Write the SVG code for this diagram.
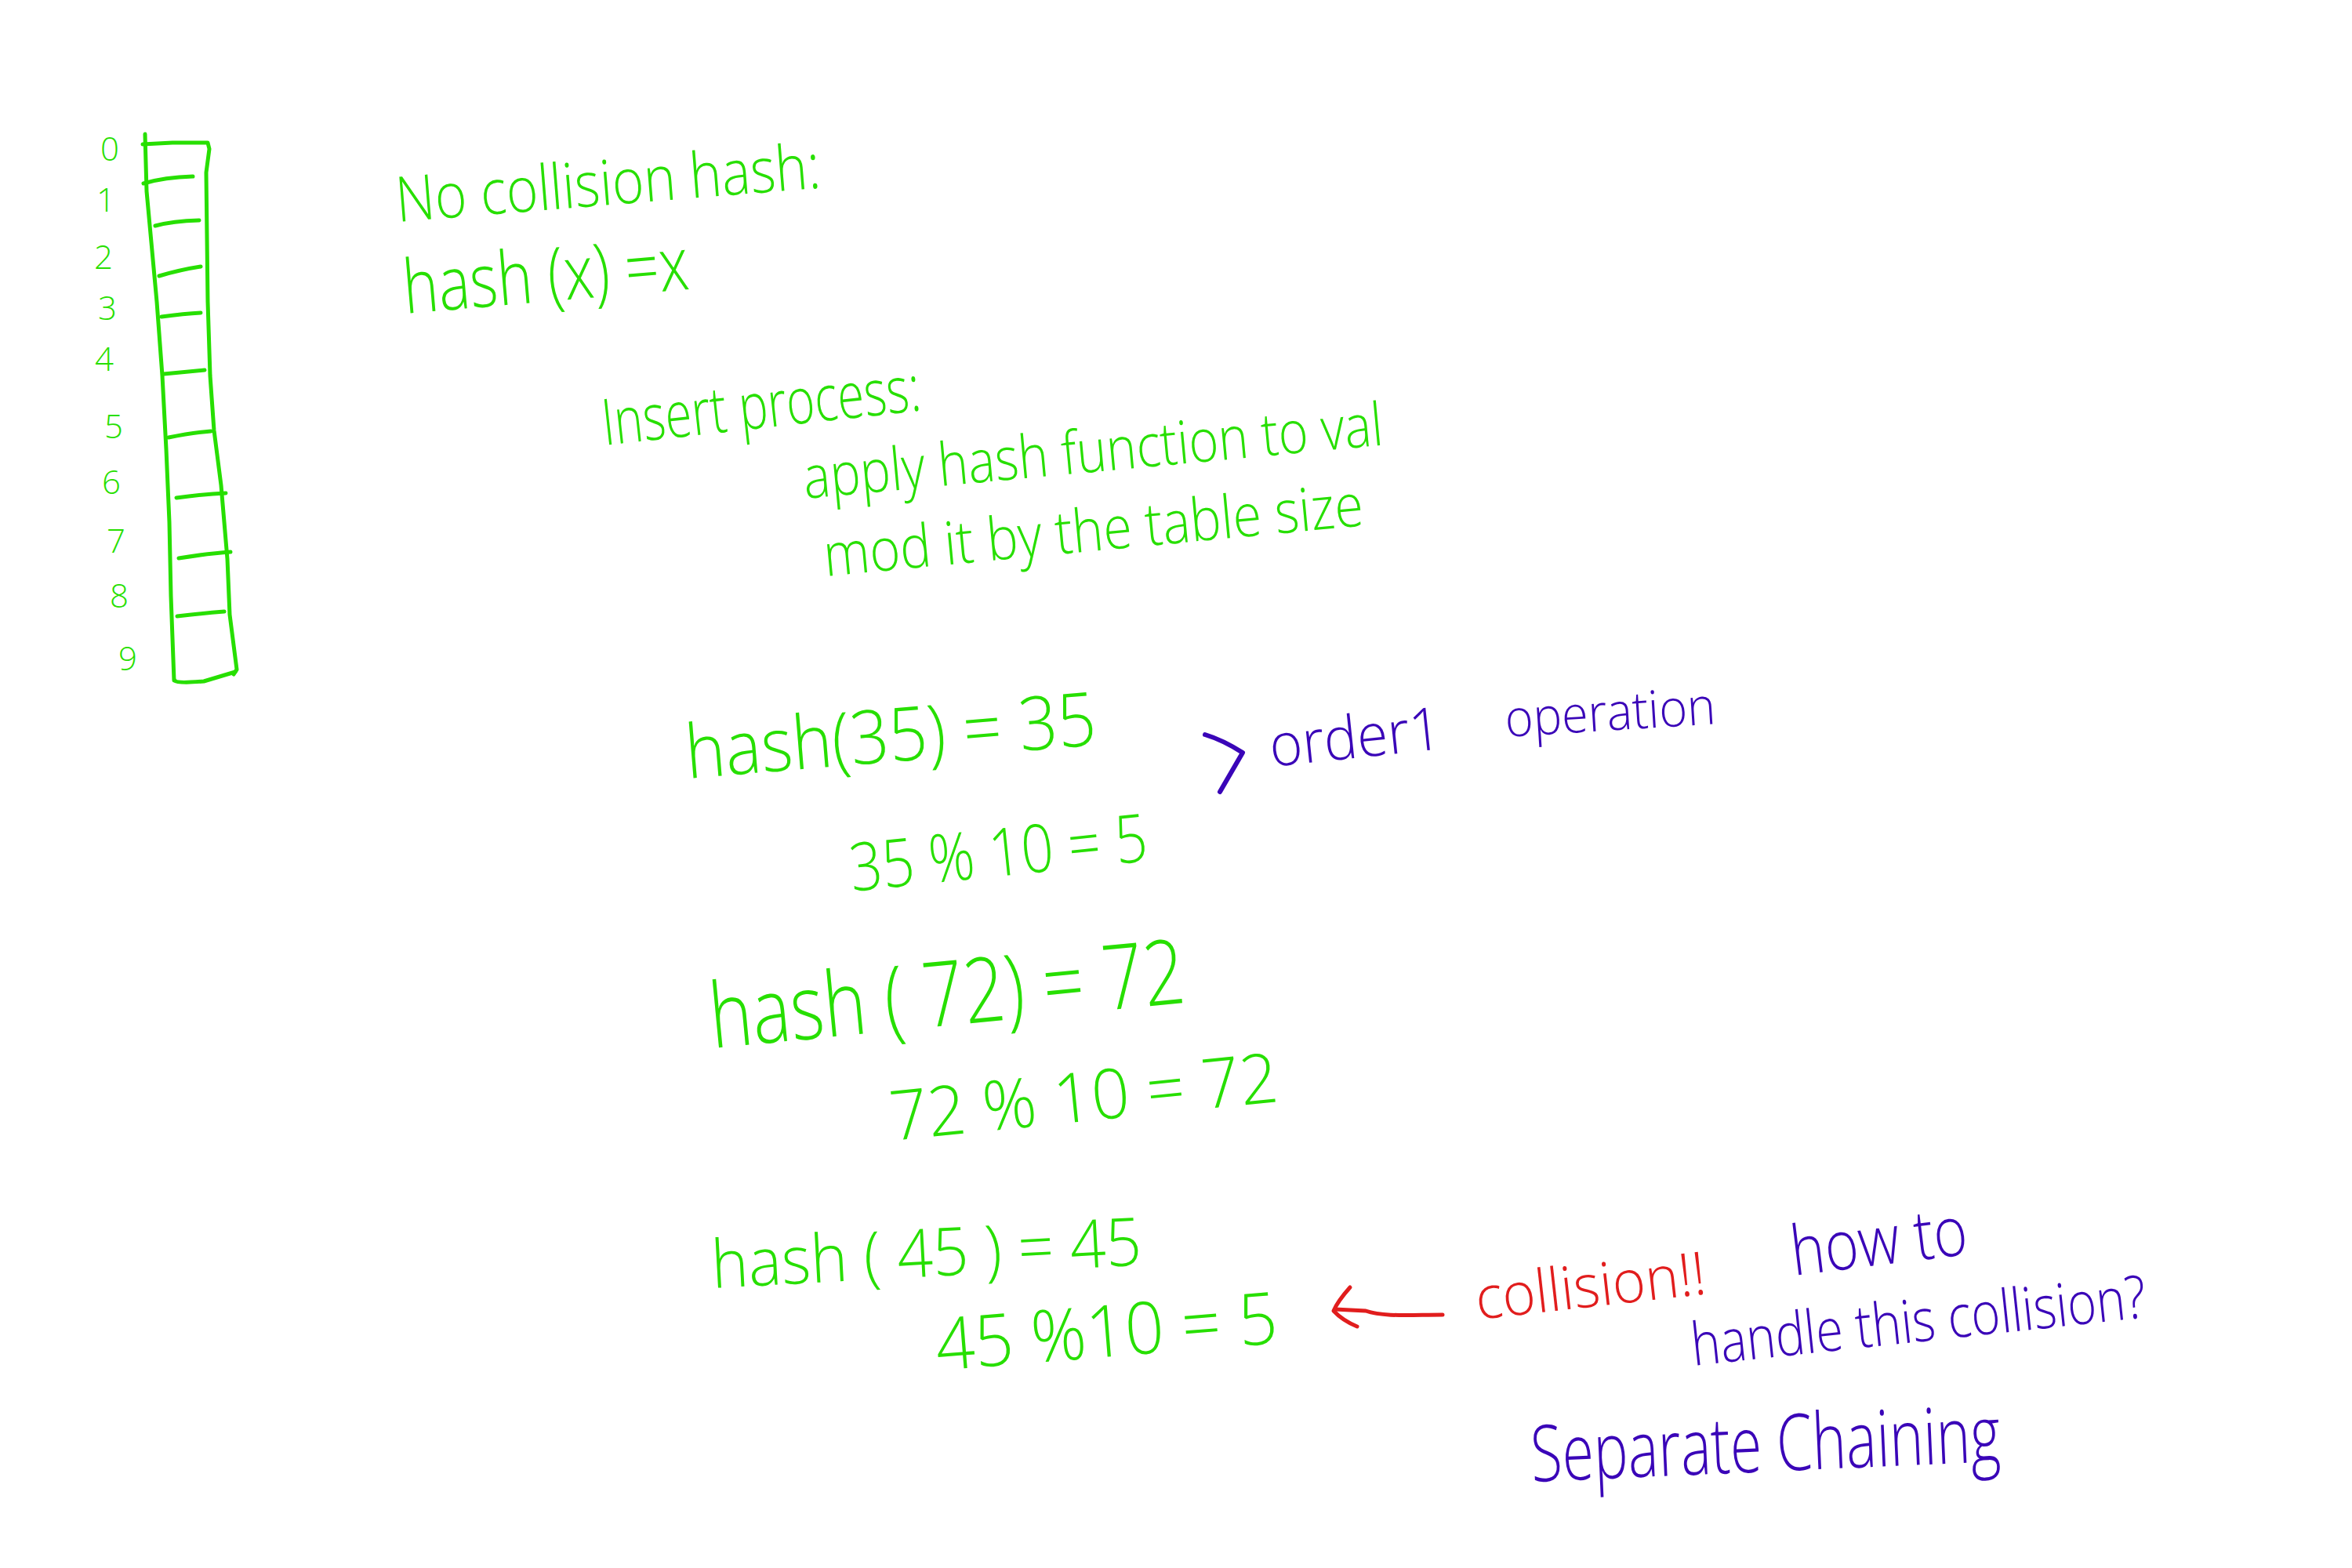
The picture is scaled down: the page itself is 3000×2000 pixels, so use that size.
<svg xmlns="http://www.w3.org/2000/svg" width="3000" height="2000" viewBox="0 0 3000 2000">
<style>
text{font-family:"Open Sans","Liberation Sans",sans-serif;font-weight:300}
.g{fill:#27df00}
.p{fill:#3a05b8}
.r{fill:#e11d1d}
.tl{fill:none;stroke:#27df00;stroke-width:5;stroke-linecap:round;stroke-linejoin:round}
.idx{font-size:42px;text-anchor:middle}
</style>
<rect width="3000" height="2000" fill="#ffffff"/>
<g id="table">
<polyline class="tl" points="185,171 187,244 200,385 207,479 212,573 216,666 218,760 222,868"/>
<polyline class="tl" points="182,184 220,182 265,182 267,190 263,220 265,385 268,479 273,549 282,619 290,713 293,784 302,854 298,860"/>
<path class="tl" d="M223,868 Q226,872 260,869 L300,857"/>
<g>
<path class="tl" d="M183,234 Q210,226 246,225"/>
<path class="tl" d="M198,288 Q220,282 254,281"/>
<path class="tl" d="M203,352 Q230,344 256,340"/>
<path class="tl" d="M206,404 Q235,400 256,399"/>
<path class="tl" d="M209,477 Q240,474 261,472"/>
<path class="tl" d="M215,558 Q245,552 269,550"/>
<path class="tl" d="M225,635 Q260,630 288,629"/>
<path class="tl" d="M228,712 Q265,706 294,704"/>
<path class="tl" d="M226,786 Q260,782 286,780"/>
</g>
</g>
<g id="indices" class="g">
<text class="idx" x="140" y="205">0</text>
<text class="idx" x="135" y="270">1</text>
<text class="idx" x="132" y="343">2</text>
<text class="idx" x="137" y="408">3</text>
<text class="idx" x="133" y="473">4</text>
<text class="idx" x="145" y="559">5</text>
<text class="idx" x="142" y="630">6</text>
<text class="idx" x="148" y="705">7</text>
<text class="idx" x="152" y="775">8</text>
<text class="idx" x="163" y="855">9</text>
</g>
<g id="intro" class="g">
<text x="507" y="283" font-size="80" textLength="543" lengthAdjust="spacingAndGlyphs" transform="rotate(-4.6 507 283)">No collision hash:</text>
<text x="517" y="400" font-size="95" textLength="365" lengthAdjust="spacingAndGlyphs" transform="rotate(-4.9 517 400)">hash (x) =x</text>
<text x="771" y="568" font-size="82" textLength="408" lengthAdjust="spacingAndGlyphs" transform="rotate(-6.3 771 568)">Insert process:</text>
<text x="1027" y="636" font-size="76" textLength="742" lengthAdjust="spacingAndGlyphs" transform="rotate(-5.3 1027 636)">apply hash function to val</text>
<text x="1053" y="735" font-size="76" textLength="691" lengthAdjust="spacingAndGlyphs" transform="rotate(-5.4 1053 735)">mod it by the table size</text>
</g>
<g id="example-35" class="g">
<text x="877" y="993" font-size="95" textLength="525" lengthAdjust="spacingAndGlyphs" transform="rotate(-4.7 877 993)">hash(35) = 35</text>
<text x="1087" y="1137" font-size="85" textLength="381" lengthAdjust="spacingAndGlyphs" transform="rotate(-5.9 1087 1137)">35 % 10 = 5</text>
</g>
<g id="note-order" class="p">
<text x="1622" y="978" font-size="76" textLength="220" lengthAdjust="spacingAndGlyphs" transform="rotate(-6 1622 978)">order1</text>
<text x="1921" y="940" font-size="66" textLength="269" lengthAdjust="spacingAndGlyphs" transform="rotate(-3.6 1921 940)">operation</text>
</g>
<g id="example-72" class="g">
<text x="909" y="1337" font-size="115" textLength="608" lengthAdjust="spacingAndGlyphs" transform="rotate(-5.5 909 1337)">hash ( 72) = 72</text>
<text x="1138" y="1455" font-size="88" textLength="497" lengthAdjust="spacingAndGlyphs" transform="rotate(-5.8 1138 1455)">72 % 10 = 72</text>
</g>
<g id="example-45" class="g">
<text x="909" y="1643" font-size="85" textLength="549" lengthAdjust="spacingAndGlyphs" transform="rotate(-3.1 909 1643)">hash ( 45 ) = 45</text>
<text x="1196" y="1748" font-size="92" textLength="437" lengthAdjust="spacingAndGlyphs" transform="rotate(-4.6 1196 1748)">45 %10 = 5</text>
</g>
<g id="note-collision" class="r">
<text x="1885" y="1683" font-size="76" textLength="295" lengthAdjust="spacingAndGlyphs" transform="rotate(-6.4 1885 1683)">collision!!</text>
</g>
<g id="note-question" class="p">
<text x="2288" y="1627" font-size="88" textLength="226" lengthAdjust="spacingAndGlyphs" transform="rotate(-7 2288 1627)">how to</text>
<text x="2160" y="1742" font-size="76" textLength="583" lengthAdjust="spacingAndGlyphs" transform="rotate(-6.1 2160 1742)">handle this collision?</text>
</g>
<g id="answer" class="p">
<text x="1954" y="1890" font-size="100" textLength="599" lengthAdjust="spacingAndGlyphs" transform="rotate(-2.5 1954 1890)">Separate Chaining</text>
</g>
<g id="connectors" fill="none" stroke-linecap="round" stroke-linejoin="round">
<path d="M1537,937 Q1560,944 1585,960 L1556,1010" stroke="#3a05b8" stroke-width="6"/>
<path d="M1840,1677 C1800,1677 1765,1680 1742,1672 L1703,1670" stroke="#e11d1d" stroke-width="5"/>
<path d="M1722,1642 Q1706,1660 1701,1672 Q1712,1684 1731,1692" stroke="#e11d1d" stroke-width="5"/>
</g>
</svg>
